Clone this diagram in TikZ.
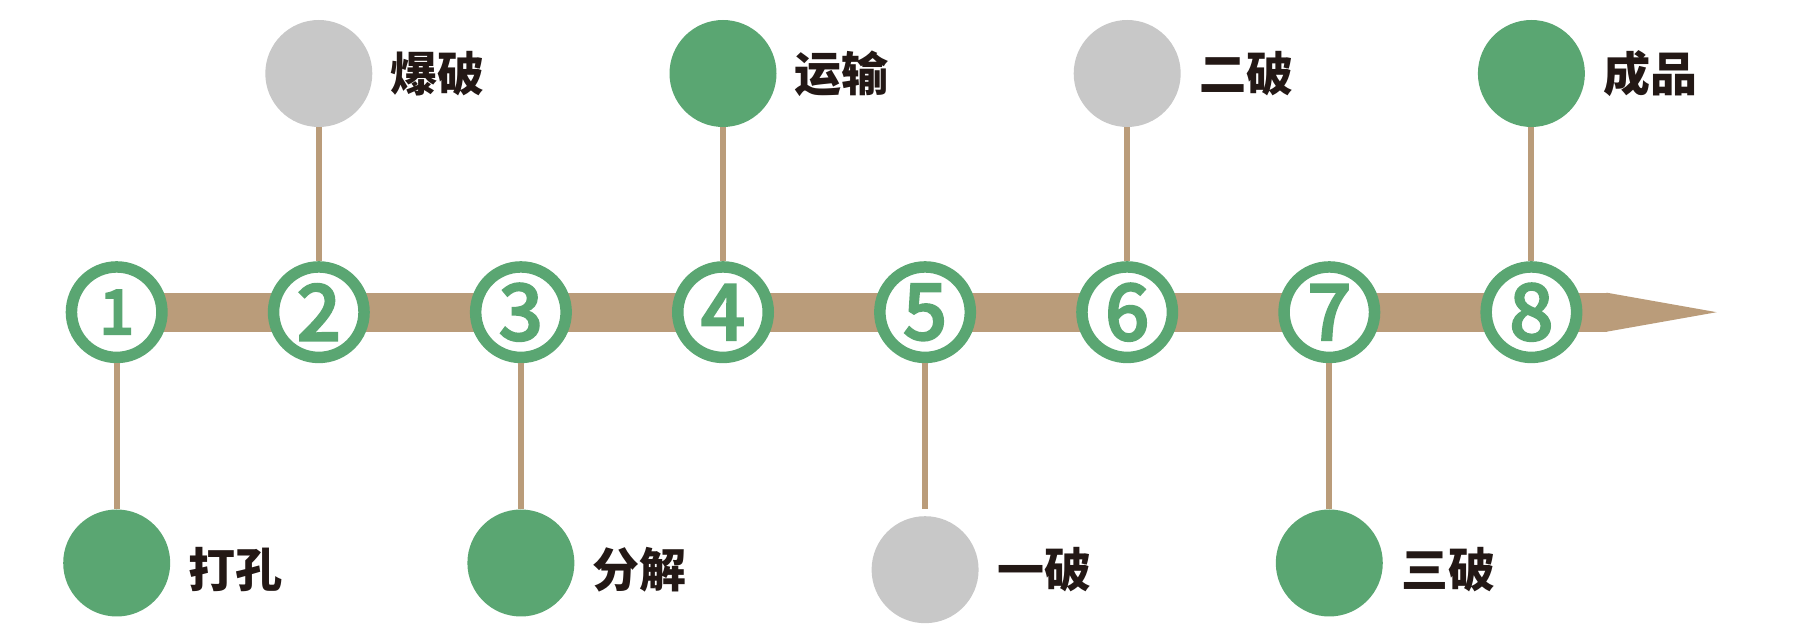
\documentclass[tikz,border=0pt]{standalone}
\usepackage{fontspec}
\newfontfamily\cjk{Noto Sans CJK SC}
\newfontfamily\digitf[FakeBold=2.5]{Noto Sans CJK SC Medium}
\definecolor{tanc}{HTML}{BA9C7A}
\definecolor{greenc}{HTML}{5AA672}
\definecolor{grayc}{HTML}{C8C8C8}
\definecolor{textc}{HTML}{231815}
\begin{document}
\begin{tikzpicture}[x=0.5pt,y=-0.5pt,
  numc/.style={circle, draw=greenc, line width=5.75pt, fill=white, minimum size=45.25pt, inner sep=0pt,
    font=\digitf\fontsize{39}{39}\selectfont, text=greenc},
  dotg/.style={circle, fill=greenc, minimum size=53.5pt, inner sep=0pt},
  dotgr/.style={circle, fill=grayc, minimum size=53.5pt, inner sep=0pt},
  lab/.style={anchor=west, inner sep=0pt, font=\cjk\bfseries\fontsize{23.5}{23.5}\selectfont, text=textc},
  stem/.style={draw=tanc, line width=3pt}
]
\useasboundingbox (0,0) rectangle (1796,624);

% axis bar with arrow
\fill[tanc] (116.7,292.7) rectangle (1606.7,331.7);
\fill[tanc] (1606.7,292.7) -- (1716.7,312.2) -- (1606.7,331.7) -- cycle;

% filled dots
\node[dotg]  (d1) at (116.7,563) {};
\node[dotgr] (d2) at (318.8,73.5) {};
\node[dotg]  (d3) at (520.9,563) {};
\node[dotg]  (d4) at (723.0,73.5) {};
\node[dotgr] (d5) at (925.1,569.7) {};
\node[dotgr] (d6) at (1127.2,73.5) {};
\node[dotg]  (d7) at (1329.3,563) {};
\node[dotg]  (d8) at (1531.4,73.5) {};

% number circles
\node[numc] (n1) at (116.7,312.2) {\fontsize{31}{31}\selectfont 1};
\node[numc] (n2) at (318.8,312.2) {2};
\node[numc] (n3) at (520.9,312.2) {3};
\node[numc] (n4) at (723.0,312.2) {4};
\node[numc] (n5) at (925.1,312.2) {5};
\node[numc] (n6) at (1127.2,312.2) {6};
\node[numc] (n7) at (1329.3,312.2) {7};
\node[numc] (n8) at (1531.4,312.2) {8};

% stems
\draw[stem] (n1) -- (d1);
\draw[stem] (n2) -- (d2);
\draw[stem] (n3) -- (d3);
\draw[stem] (n4) -- (d4);
\draw[stem, shorten >=3.5pt] (n5) -- (d5);
\draw[stem] (n6) -- (d6);
\draw[stem] (n7) -- (d7);
\draw[stem] (n8) -- (d8);

% labels
\node[lab] (t1) at (188.2,569.5) {打孔};
\node[lab] (t2) at (390.3,73.5) {爆破};
\node[lab] (t3) at (592.4,569.5) {分解};
\node[lab] (t4) at (794.5,73.5) {运输};
\node[lab] (t5) at (996.6,569.5) {一破};
\node[lab] (t6) at (1198.7,73.5) {二破};
\node[lab] (t7) at (1400.8,569.5) {三破};
\node[lab] (t8) at (1602.9,73.5) {成品};
\end{tikzpicture}
\end{document}
